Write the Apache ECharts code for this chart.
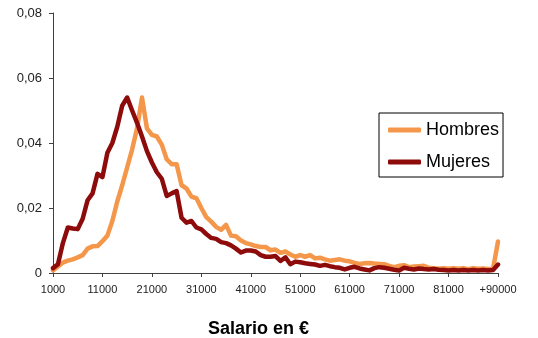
<!DOCTYPE html>
<html>
<head>
<meta charset="utf-8">
<script src="https://cdn.jsdelivr.net/npm/echarts@6/dist/echarts.min.js"></script>
<style>
html,body{margin:0;padding:0;background:#fff;}
#chart{width:538px;height:338px;}
</style>
</head>
<body>
<div id="chart"></div>
<script>
// Categories: salary bins 1000 ... 90000 and "+90000"
const categories = [];
for (let s = 1000; s <= 90000; s += 1000) categories.push(String(s));
categories.push('+90000');

const seriesNames = ['Hombres', 'Mujeres'];

const hombres = [
  0.0008, 0.0020, 0.0032, 0.0038, 0.0042, 0.0048, 0.0055, 0.0075, 0.0082, 0.0083,
  0.0098, 0.0115, 0.0160, 0.0220, 0.0270, 0.0325, 0.0380, 0.0445, 0.0540, 0.0445,
  0.0425, 0.0420, 0.0395, 0.0350, 0.0335, 0.0335, 0.0270, 0.0260, 0.0235, 0.0230,
  0.0200, 0.0172, 0.0158, 0.0142, 0.0133, 0.0148, 0.0115, 0.0113, 0.0100, 0.0092,
  0.0088, 0.0083, 0.0080, 0.0080, 0.0070, 0.0072, 0.0062, 0.0066, 0.0057, 0.0050,
  0.0055, 0.0050, 0.0055, 0.0045, 0.0047, 0.0042, 0.0038, 0.0040, 0.0042, 0.0038,
  0.0036, 0.0031, 0.0028, 0.0030, 0.0031, 0.0029, 0.0028, 0.0027, 0.0022, 0.0018,
  0.0022, 0.0024, 0.0018, 0.0020, 0.0021, 0.0022, 0.0016, 0.0015, 0.0013, 0.0015,
  0.0013, 0.0015, 0.0013, 0.0015, 0.0012, 0.0015, 0.0013, 0.0014, 0.0012, 0.0013,
  0.0097
];

const mujeres = [
  0.0015, 0.0027, 0.0092, 0.0140, 0.0137, 0.0135, 0.0167, 0.0224, 0.0245, 0.0305,
  0.0295, 0.0370, 0.0400, 0.0450, 0.0515, 0.0540, 0.0500, 0.0462, 0.0420, 0.0375,
  0.0340, 0.0310, 0.0290, 0.0237, 0.0245, 0.0252, 0.0170, 0.0155, 0.0160, 0.0140,
  0.0134, 0.0120, 0.0108, 0.0105, 0.0095, 0.0092, 0.0085, 0.0075, 0.0063, 0.0069,
  0.0069, 0.0066, 0.0055, 0.0050, 0.0050, 0.0052, 0.0037, 0.0048, 0.0027, 0.0035,
  0.0033, 0.0030, 0.0028, 0.0026, 0.0022, 0.0025, 0.0021, 0.0018, 0.0016, 0.0011,
  0.0016, 0.0019, 0.0014, 0.0011, 0.0008, 0.0015, 0.0018, 0.0016, 0.0013, 0.0010,
  0.0008, 0.0016, 0.0013, 0.0011, 0.0014, 0.0012, 0.0011, 0.0012, 0.0010, 0.0009,
  0.0008, 0.0009, 0.0008, 0.0009, 0.0008, 0.0009, 0.0008, 0.0009, 0.0008, 0.0009,
  0.0026
];

const xAxisTitle = 'Salario en €';

const chart = echarts.init(document.getElementById('chart'), null, {renderer: 'canvas'});
const axisColor = '#404040';
const font = 'Arial, "Liberation Sans", sans-serif';
chart.setOption({
  animation: false,
  backgroundColor: '#ffffff',
  grid: {left: 53, right: 40, top: 13, bottom: 65, containLabel: false},
  legend: {
    orient: 'vertical',
    left: 379, top: 113,
    padding: [7, 4, 5, 9],
    itemGap: 12,
    itemWidth: 33, itemHeight: 5,
    icon: 'roundRect',
    borderColor: '#000', borderWidth: 1,
    textStyle: {fontFamily: font, fontSize: 18, color: '#000', lineHeight: 20, padding: [0,0,0,0]},
    data: seriesNames
  },
  xAxis: {
    type: 'category',
    data: categories,
    boundaryGap: false,
    axisLine: {lineStyle: {color: axisColor, width: 1}},
    axisTick: {interval: 9, length: 4, lineStyle: {color: axisColor}},
    axisLabel: {interval: 9, margin: 11, fontFamily: font, fontSize: 11, color: '#222'},
    splitLine: {show: false}
  },
  yAxis: {
    type: 'value',
    min: 0, max: 0.08, interval: 0.02,
    axisLine: {show: true, lineStyle: {color: axisColor, width: 1}},
    axisTick: {show: true, length: 4, lineStyle: {color: axisColor}},
    axisLabel: {
      margin: 11, fontFamily: font, fontSize: 13, color: '#222',
      formatter: v => v === 0 ? '0' : v.toFixed(2).replace('.', ',')
    },
    splitLine: {show: false}
  },
  graphic: [{
    type: 'text', left: 208, top: 320,
    style: {text: xAxisTitle, font: 'bold 18px Arial, "Liberation Sans", sans-serif', fill: '#000'}
  }],
  series: [
    {name: seriesNames[0], type: 'line', data: hombres, symbol: 'none', color: '#F4974A',
     lineStyle: {width: 4.5, color: '#F4974A', cap: 'round', join: 'round'}},
    {name: seriesNames[1], type: 'line', data: mujeres, symbol: 'none', color: '#8E0B0B',
     lineStyle: {width: 4.5, color: '#8E0B0B', cap: 'round', join: 'round'}}
  ]
});
</script>
</body>
</html>
